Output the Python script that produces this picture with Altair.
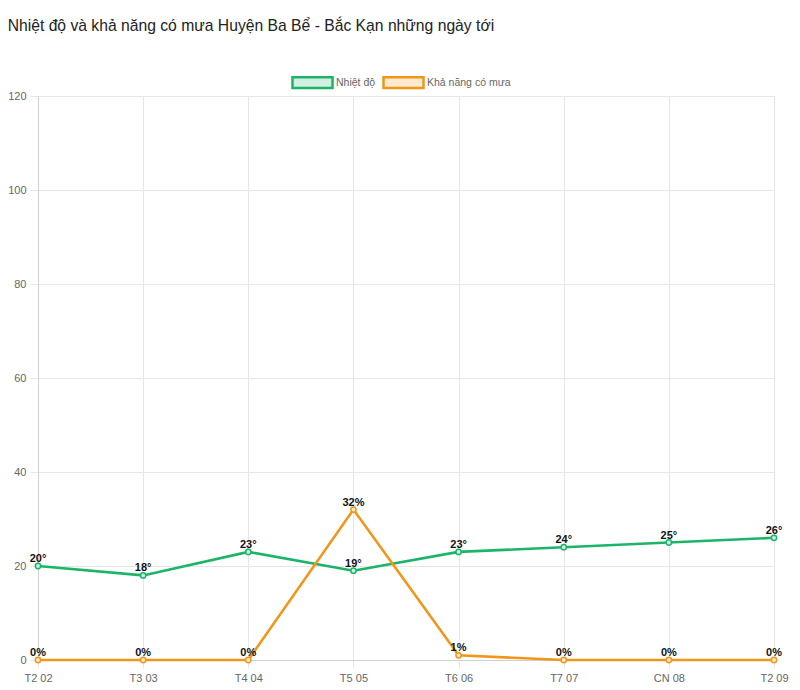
import altair as alt
import pandas as pd

days = ["T2 02", "T3 03", "T4 04", "T5 05", "T6 06", "T7 07", "CN 08", "T2 09"]
temps = [20, 18, 23, 19, 23, 24, 25, 26]
rain = [0, 0, 0, 32, 1, 0, 0, 0]
series_names = ["Nhiệt độ", "Khả năng có mưa"]
line_colors = ["#1cb468", "#f0971a"]
fill_colors = ["#d2f0e1", "#fdeacf"]

rows = []
for d, t in zip(days, temps):
    rows.append({"day": d, "value": t, "series": series_names[0], "label": f"{t}°"})
for d, r in zip(days, rain):
    rows.append({"day": d, "value": r, "series": series_names[1], "label": f"{r}%"})
df = pd.DataFrame(rows)

FONT = "Liberation Sans"
x = alt.X("day:N", sort=days, title=None,
          scale=alt.Scale(type="point", padding=0),
          axis=alt.Axis(labelAngle=0, labelColor="#666666", labelFontSize=11, labelFont=FONT,
                        gridColor="#e6e6e6", grid=True, tickColor="#e6e6e6", tickSize=8,
                        domainColor="#d0d0d0", labelPadding=4))
y = alt.Y("value:Q", title=None,
          scale=alt.Scale(domain=[0, 120], nice=False),
          axis=alt.Axis(values=[0, 20, 40, 60, 80, 100, 120], labelColor="#666666",
                        labelFontSize=11, labelFont=FONT, gridColor="#e6e6e6",
                        tickColor="#e6e6e6", tickSize=8, domainColor="#d0d0d0", labelPadding=4))

legend = alt.Legend(title=None, orient="none", legendX=253, legendY=-35, direction="horizontal",
                    symbolType="M-1,-0.27H1V0.27H-1Z", symbolSize=1600, symbolStrokeWidth=2.5,
                    labelFont=FONT, labelFontSize=10.5, labelColor="#666666", labelOffset=2,
                    columnPadding=2)

stroke = alt.Stroke("series:N", scale=alt.Scale(domain=series_names, range=line_colors), legend=legend)
fill = alt.Fill("series:N", scale=alt.Scale(domain=series_names, range=fill_colors), legend=legend)

base = alt.Chart(df)
lines = base.mark_line(strokeWidth=2.6).encode(x=x, y=y, stroke=stroke, detail="series:N")
points = base.mark_point(filled=False, size=28, strokeWidth=1.5, opacity=1).encode(
    x=x, y=y, stroke=stroke, fill=fill)
labels = base.mark_text(font=FONT, fontSize=11, fontWeight="bold", color="#111111",
                        baseline="alphabetic", dy=-4).encode(x=x, y=y, text="label:N")

chart = alt.layer(lines, points, labels).properties(
    width=736, height=564,
    autosize=alt.AutoSizeParams(type="none"),
    padding={"left": 38, "top": 96, "right": 26, "bottom": 30},
    title=alt.TitleParams("Nhiệt độ và khả năng có mưa Huyện Ba Bể - Bắc Kạn những ngày tới",
                          anchor="start", dx=0, offset=26, font=FONT, fontSize=15.7,
                          fontWeight="normal", color="#222222"),
).configure_view(stroke=None).configure(background="white")

chart.save("out.html", embed_options={"renderer": "svg", "actions": False})
